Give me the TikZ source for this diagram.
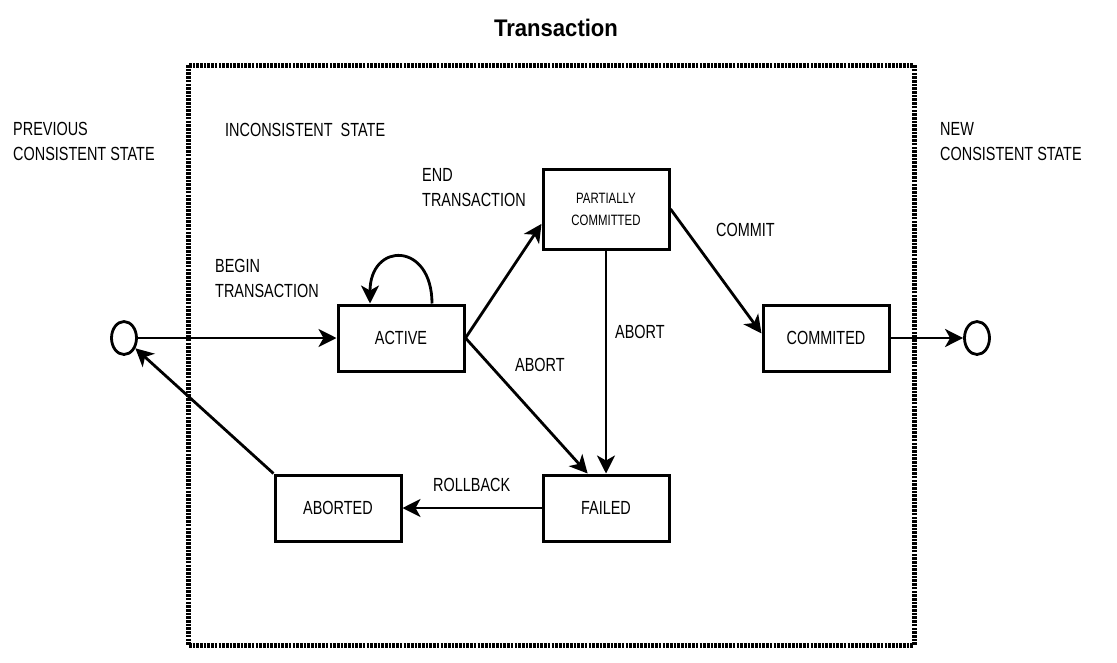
\documentclass[tikz,border=0pt]{standalone}
\usepackage{fontspec}
\setmainfont{Liberation Sans}[FakeStretch=0.76]
\newfontfamily\headfont{Liberation Sans}[FakeStretch=0.92]
\usetikzlibrary{%
	arrows.meta,%
	shapes.geometric,%
	calc%
}
\tikzset{
	stbox/.style={draw,line width=3pt,minimum width=126pt,minimum height=66pt,inner sep=2pt,font=\fontsize{19}{22}\selectfont},
	endpt/.style={draw,ellipse,line width=2.8pt,minimum width=25pt,minimum height=33pt,inner sep=0pt},
	lbl/.style={align=left,inner sep=0pt,anchor=north west,font=\fontsize{19}{25}\selectfont},
	trans/.style={line width=2.8pt},
	tip/.style={-{Stealth[length=18pt,width=18pt,inset=5pt]}}
}

\begin{document}
\begin{tikzpicture}[x=1pt,y=-1pt]
			\useasboundingbox (0,0) rectangle (1117,662);
			\node[font=\headfont\bfseries\fontsize{24}{26}\selectfont] (title) at (556,28) {Transaction};
			\draw[line width=5pt,dash pattern=on 2.6pt off 1.1pt] (188,65) rectangle (914,645);
			%
			\node[endpt] (prev) at (124,338) {};
			\node[endpt] (new) at (977,338) {};
			\node[stbox] (act) at (401,338) {ACTIVE};
			\node[stbox,minimum height=80pt,align=center,font=\fontsize{15}{22}\selectfont] (pc) at (606,209) {PARTIALLY\\COMMITTED};
			\node[stbox] (com) at (826,338) {COMMITED};
			\node[stbox] (fail) at (606,508) {FAILED};
			\node[stbox] (abt) at (338,508) {ABORTED};
			%
			\node[lbl] (prevlbl) at (13,122) {PREVIOUS\\CONSISTENT STATE};
			\node[lbl] (newlbl) at (940,122) {NEW\\CONSISTENT STATE};
			\node[lbl] (inclbl) at (225,123) {INCONSISTENT\ \ STATE};
			\node[lbl] (beginlbl) at (215,259) {BEGIN\\TRANSACTION};
			\node[lbl] (endlbl) at (422,168) {END\\TRANSACTION};
			\node[lbl] (commitlbl) at (716,223) {COMMIT};
			\node[lbl] (abortlbl) at (515,358) {ABORT};
			\node[lbl] (abortlblb) at (615,325) {ABORT};
			\node[lbl] (rollbacklbl) at (433,478) {ROLLBACK};
			%
			\draw[trans,every edge/.append style={tip}] (prev) edge (act)
			(act.east) edge (pc.193)
			(act.east) edge (fail.118)
			(pc) edge (fail)
			(pc.east) edge (com.176)
			(com) edge (new)
			(fail) edge (abt)
			(abt.north west) edge (prev)
			;
			\draw[trans,tip] ($(act.north)+(31,0)$) .. controls +(0,-62) and +(0,-62) .. ($(act.north)+(-31,0)$);
		\end{tikzpicture}
\end{document}
